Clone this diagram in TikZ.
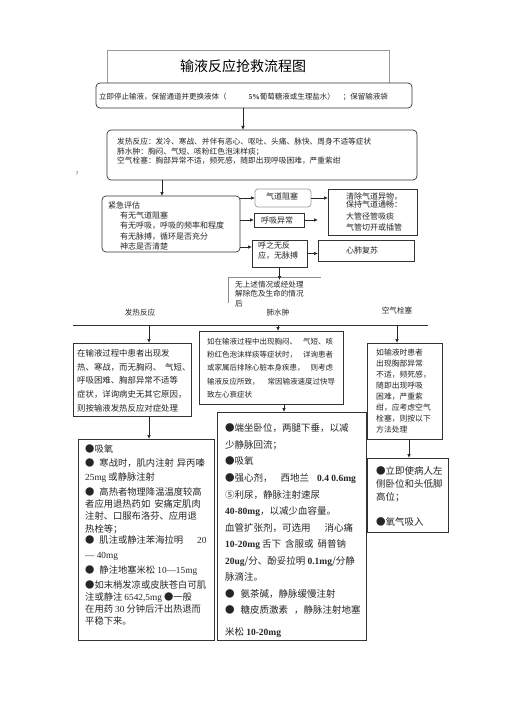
\documentclass[tikz,border=0pt]{standalone}
\usepackage{fontspec}
\setmainfont{Noto Sans CJK SC}
\newfontfamily\latf{Liberation Serif}
\usetikzlibrary{arrows.meta}
\newcommand\lt[1]{{\latf #1}}
\newcommand\ltb[1]{{\latf\bfseries #1}}
\newcommand\fz[2]{\fontsize{#1}{#2}\selectfont}
\newcommand\mkbox[6]{\node[#1,minimum width=#4pt-#2pt,minimum height=#5pt-#3pt,anchor=north west] (#6) at (#2,#3) {};}
\begin{document}
\begin{tikzpicture}[x=1pt,y=-1pt,
  box/.style={draw=black!80,line width=0.7pt,inner sep=0pt,outer sep=0pt,fill=white},
  rbox/.style={box,rounded corners=4pt},
  gbox/.style={box,draw=black!40},
  txt/.style={anchor=north west,inner sep=0pt,align=left,text=black!85},
  ctxt/.style={anchor=center,inner sep=0pt,text=black!85},
  arr/.style={-{Latex[length=4pt,width=3.5pt]},line width=0.7pt,draw=black!85},
  ln/.style={line width=0.7pt,draw=black!80}]
\useasboundingbox[fill=white] (0,0) rectangle (505,714);
% title
\mkbox{gbox}{107}{50}{389}{84}{tb}
\node[ctxt,font=\fz{14}{16},text=black] (title) at (243,66) {输液反应抢救流程图};
% stop infusion
\mkbox{rbox}{96}{83}{412}{108}{b2}
\node[txt,font=\fz{7.5}{9}] (t2) at (99,92.5) {立即停止输液，保留通道并更换液体（\hspace{22pt}\ltb{5\%}葡萄糖液或生理盐水）\hspace{8pt}；保留输液袋};
% symptoms
\mkbox{rbox}{107}{130}{417}{180}{b3}
\node[txt,font=\fz{7.7}{9.3}] (t3) at (117,138) {发热反应：发冷、寒战、并伴有恶心、呕吐、头痛、脉快、周身不适等症状\\肺水肿：胸闷、气短、咳粉红色泡沫样痰；\\空气栓塞：胸部异常不适，频死感，随即出现呼吸困难，严重紫绀};
\node[ctxt,font=\fz{5}{6}] (seven) at (77,174) {\lt{7}};
\draw[arr] (title.center |- b2.south) -- (title.center |- b3.north);
% assessment
\mkbox{rbox}{102}{196}{240}{252}{b4}
\node[txt,font=\fz{8}{10.3}] (t4) at (108,201.3) {紧急评估\\\hspace*{12pt}有无气道阻塞\\\hspace*{12pt}有无呼吸，呼吸的频率和程度\\\hspace*{12pt}有无脉搏，循环是否充分\\\hspace*{12pt}神志是否清楚};
\coordinate (c1) at (162,0);
\draw[arr] (c1 |- b3.south) -- (c1 |- b4.north);
% right boxes
\mkbox{gbox,rounded corners=3pt}{255}{189}{311}{207}{qd}
\node[ctxt,font=\fz{8}{10}] (tqd) at (282,196) {气道阻塞};
\mkbox{box}{254}{213}{304}{227}{hx}
\node[ctxt,font=\fz{8}{10}] (thx) at (277,220) {呼吸异常};
\mkbox{box}{252}{240}{307}{267}{hz}
\node[txt,font=\fz{8}{10}] (thz) at (258,241.3) {呼之无反\\应，无脉搏};
\mkbox{box}{328}{189}{417}{235}{qc}
\node[txt,font=\fz{8}{8.5}] (tqc1) at (346,192.5) {清除气道异物，\\保持气道通畅：};
\node[txt,font=\fz{8}{11}] (tqc2) at (346,212.5) {大管径管吸痰\\气管切开或插管};
\mkbox{box}{318}{240}{414}{261}{xf}
\node[ctxt,font=\fz{8}{10}] (txf) at (362,250) {心肺复苏};
\coordinate (a3) at (0,247);
\coordinate (hxend) at (318,0);
\draw[arr] (b4.east |- qd.west) -- (qd.west);
\draw[arr] (b4.east |- hx.west) -- (hx.west);
\draw[arr] (b4.east |- a3) -- (hz.west |- a3);
\draw[arr] (qd.east) -- (qc.west |- qd.east);
\draw[arr] (hx.east) -- (hxend |- hx.east);
\draw[arr] (hz.east) -- (xf.west |- hz.east);
% no above situation
\coordinate (w1) at (228,277);
\coordinate (w2) at (321,277);
\coordinate (w3) at (228,303);
\coordinate (w4) at (0,280);
\draw[line width=0.6pt,draw=black!45] (w3) -- (w1) -- (w2);
\draw[arr] (hz.south) -- (hz.south |- w4);
\node[txt,font=\fz{7.6}{9.6}] (tw) at (235,280.5) {无上述情况或经处理\\解除危及生命的情况\\后};
% category labels
\node[ctxt,font=\fz{7.6}{9}] (l1) at (140,313) {发热反应};
\node[ctxt,font=\fz{7.6}{9}] (l2) at (278,313) {肺水肿};
\node[ctxt,font=\fz{7.6}{9}] (l3) at (397,311) {空气栓塞};
\coordinate (h1) at (73,325);
\coordinate (h2) at (428,325);
\draw[ln] (h1) -- (h2);
% fever description
\mkbox{box}{73}{343}{191}{416}{fr}
\node[txt,font=\fz{8.4}{13.7}] (tfr) at (77,349.1) {在输液过程中患者出现发\\热、寒战，而无胸闷、\hspace{4pt}气短、\\呼吸困难、胸部异常不适等\\症状，详询病史无其它原因，\\则按输液发热反应对症处理};
% edema description
\mkbox{box}{199}{331}{343}{404}{fs}
\node[txt,font=\fz{7.5}{13.3}] (tfs) at (207,337.6) {如在输液过程中出现胸闷、\hspace{6pt}气短、咳\\粉红色泡沫样痰等症状时，\hspace{6pt}详询患者\\或家属后排除心脏本身疾患，\hspace{6pt}则考虑\\输液反应所致，\hspace{8pt}常因输液速度过快导\\致左心衰症状};
% embolism description
\mkbox{box}{367}{343}{442}{439}{kq}
\node[txt,font=\fz{7.8}{11.1}] (tkq) at (376,348.4) {如输液时患者\\出现胸部异常\\不适，频死感，\\随即出现呼吸\\困难，严重紫\\绀，应考虑空气\\栓塞，则按以下\\方法处理};
\coordinate (ax1) at (149,325);
\coordinate (ax2) at (278,325);
\coordinate (ax3) at (397,325);
\draw[arr] (ax1) -- (ax1 |- fr.north);
\draw[arr] (ax2) -- (ax2 |- fs.north);
\draw[arr] (ax3) -- (ax3 |- kq.north);
% fever treatment
\mkbox{box}{78}{439}{214}{640}{ft}
\node[txt,font=\fz{9.3}{12}] (tf1) at (85,444) {●吸氧};
\node[txt,font=\fz{9.3}{14}] (tf2) at (85,458.4) {●\hspace{5pt}寒战时，肌内注射\hspace{3pt}异丙嗪\\\lt{25mg} 或静脉注射};
\node[txt,font=\fz{9.3}{12.2}] (tf3) at (85,487.4) {●\hspace{5pt}高热者物理降温温度较高\\者应用退热药如\hspace{4pt}安痛定肌肉\\注射、口服布洛芬、应用退\\热栓等；};
\node[txt,font=\fz{9.3}{15}] (tf4) at (85,535.7) {●\hspace{5pt}肌注或静注苯海拉明\hspace{14pt}\lt{20}\\\lt{— 40mg}};
\node[txt,font=\fz{9.3}{12}] (tf5) at (85,565.7) {●\hspace{5pt}静注地塞米松 \lt{10—15mg}};
\node[txt,font=\fz{9.3}{12}] (tf6) at (85,580.7) {●如末梢发凉或皮肤苍白可肌\\注或静注 \lt{6542,5mg} ●一般\\在用药 \lt{30} 分钟后汗出热退而\\平稳下来。};
% edema treatment
\mkbox{box}{217}{412}{366}{640}{fe}
\foreach \tx [count=\i] in {
  {●端坐卧位，两腿下垂，以减},
  {少静脉回流；},
  {●吸氧},
  {●强心剂，\hspace{8pt}西地兰\hspace{8pt}\ltb{0.4 0.6mg}},
  {⑤利尿，静脉注射速尿},
  {\ltb{40-80mg}，以减少血容量。},
  {血管扩张剂，可选用\hspace{14pt}消心痛},
  {\ltb{10-20mg} 舌下\hspace{4pt}含服或\hspace{4pt}硝普钠},
  {\ltb{20ug}/分、酚妥拉明 \ltb{0.1mg}/分静},
  {脉滴注。},
  {●\hspace{6pt}氨茶碱，静脉缓慢注射},
  {●\hspace{6pt}糖皮质激素\hspace{6pt}，静脉注射地塞}}
  \node[txt,font=\fz{9.5}{11}] (tfe\i) at (225,{423.6+16.55*(\i-1)}) {\tx};
\node[txt,font=\fz{9.5}{11}] (tfe13) at (225,627.6) {米松 \ltb{10-20mg}};
% embolism treatment
\mkbox{box}{367}{458}{448}{532}{kt}
\node[txt,font=\fz{9.5}{12.7}] (tkt) at (376,466.6) {●立即使病人左\\侧卧位和头低脚\\高位；\\[12.7pt]●氧气吸入};
\coordinate (ax4) at (284,0);
\coordinate (ax5) at (409,0);
\draw[arr] (ax1 |- fr.south) -- (ax1 |- ft.north);
\draw[arr] (ax4 |- fs.south) -- (ax4 |- fe.north);
\draw[arr] (ax5 |- kq.south) -- (ax5 |- kt.north);
\end{tikzpicture}
\end{document}
